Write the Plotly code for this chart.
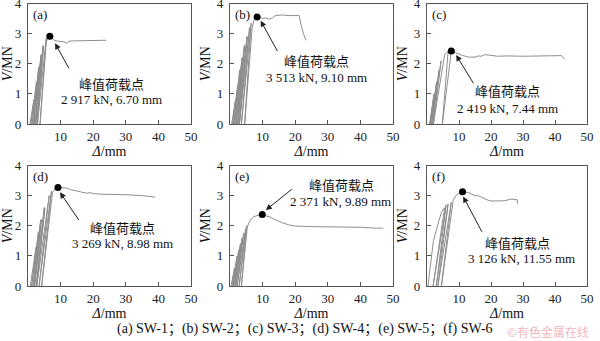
import plotly.graph_objects as go

# ---------------- data ----------------
PANELS = ["(a)", "(b)", "(c)", "(d)", "(e)", "(f)"]
CAPTION = "(a) SW-1\uff1b(b) SW-2\uff1b(c) SW-3\uff1b(d) SW-4\uff1b(e) SW-5\uff1b(f) SW-6"
PEAK_LABEL = "\u5cf0\u503c\u8377\u8f7d\u70b9"  # 峰值荷载点
WATERMARK = "\u00a9\u6709\u8272\u91d1\u5c5e\u5728\u7ebf"  # ©有色金属在线
PEAK_TEXT = ["2 917 kN, 6.70 mm", "3 513 kN, 9.10 mm", "2 419 kN, 7.44 mm",
             "3 269 kN, 8.98 mm", "2 371 kN, 9.89 mm", "3 126 kN, 11.55 mm"]
PEAK_D = [6.7, 8.3, 7.6, 9.2, 9.9, 11.1]
PEAK_V = [2.917, 3.55, 2.42, 3.27, 2.37, 3.13]

A_D = [0.6, 1.8, 0.9, 1.9, 1.0, 2.6, 1.3, 2.7, 1.4, 3.3, 1.7, 3.4, 1.8, 4.0, 2.2, 4.1, 2.3, 4.6, 2.7, 4.8,
       2.9, 5.6, 3.7, 5.6, 6.0, 6.7, 7.3, 8.0, 9.0, 10, 11, 12, 12.5, 14, 17, 20, 24]
A_V = [0, 0.8, 0, 0.8, 0, 1.4, 0, 1.4, 0, 1.9, 0, 1.9, 0, 2.3, 0, 2.3, 0, 2.6, 0, 2.6,
       0, 2.85, 0, 2.7, 2.85, 2.917, 2.85, 2.78, 2.75, 2.75, 2.73, 2.68, 2.75, 2.76, 2.77, 2.78, 2.78]

B_D = [0.5, 1.6, 0.7, 1.7, 0.8, 2.3, 1.0, 2.4, 1.1, 3.0, 1.4, 3.1, 1.5, 3.7, 1.8, 3.8, 1.9, 4.4, 2.3, 4.5,
       2.4, 5.2, 2.8, 5.3, 2.9, 6.0, 3.5, 6.5, 4.5, 6.8, 7.5, 8.3, 9, 10, 11, 12, 13, 14, 16, 18, 20,
       21.2, 21.8, 22.5, 23.3]
B_V = [0, 0.8, 0, 0.8, 0, 1.3, 0, 1.3, 0, 1.8, 0, 1.8, 0, 2.2, 0, 2.2, 0, 2.6, 0, 2.6,
       0, 2.9, 0, 2.9, 0, 3.2, 0, 3.35, 0, 3.2, 3.5, 3.55, 3.56, 3.5, 3.52, 3.48, 3.52, 3.6, 3.62, 3.6, 3.6,
       3.6, 3.3, 3.0, 2.78]

C_D = [0.8, 1.5, 0.8, 1.6, 0.9, 2.2, 1.0, 2.3, 1.1, 2.9, 1.3, 3.0, 1.4, 3.6, 1.6, 3.8, 1.7, 4.4, 2.0, 5.5,
       6.6, 4.8, 7.6, 8.5, 10, 11, 12, 13, 14, 15, 16, 17, 18, 19, 20, 22, 25, 30, 35, 40, 42, 43]
C_V = [0, 0.6, 0, 0.6, 0, 1.0, 0, 1.0, 0, 1.4, 0, 1.4, 0, 1.8, 0, 1.8, 0, 2.1, 0, 2.3,
       2.42, 0, 2.42, 2.38, 2.3, 2.28, 2.25, 2.22, 2.22, 2.22, 2.26, 2.25, 2.3, 2.3, 2.28, 2.25, 2.26,
       2.25, 2.25, 2.25, 2.27, 2.15]

D_D = [0.7, 1.8, 0.8, 1.9, 0.9, 2.5, 1.1, 2.6, 1.2, 3.2, 1.5, 3.3, 1.6, 3.9, 1.9, 4.1, 2.0, 5.0, 2.5, 5.2,
       2.7, 6.5, 3.4, 7.2, 4.2, 7.5, 8.3, 9.2, 10, 11, 12, 13, 15, 17, 18, 19, 20, 22, 25, 30, 35, 39]
D_V = [0, 0.8, 0, 0.8, 0, 1.3, 0, 1.3, 0, 1.8, 0, 1.8, 0, 2.2, 0, 2.2, 0, 2.6, 0, 2.6,
       0, 3.0, 0, 3.15, 0, 3.1, 3.22, 3.27, 3.27, 3.25, 3.25, 3.2, 3.15, 3.12, 3.08, 3.1, 3.07, 3.05,
       3.05, 3.03, 3.0, 2.95]

E_D = [0.3, 1.2, 0.5, 1.4, 0.6, 1.7, 0.7, 1.9, 0.8, 2.2, 0.9, 2.4, 1.0, 2.7, 1.2, 2.9, 1.3, 3.2, 1.5, 3.4,
       1.6, 3.7, 1.8, 3.9, 1.9, 4.2, 2.2, 4.5, 2.4, 4.8, 2.8, 5.1, 3.5, 5.3, 6, 7, 8, 9.9, 11, 12, 14, 16,
       18, 20, 25, 30, 35, 40, 45, 47]
E_V = [0, 0.6, 0, 0.6, 0, 0.8, 0, 0.8, 0, 1.0, 0, 1.0, 0, 1.2, 0, 1.2, 0, 1.4, 0, 1.4,
       0, 1.6, 0, 1.6, 0, 1.75, 0, 1.75, 0, 1.9, 0, 2.0, 0, 1.95, 2.15, 2.28, 2.33, 2.37, 2.33, 2.3, 2.2,
       2.1, 2.03, 1.99, 1.97, 1.97, 1.96, 1.95, 1.92, 1.92]

F_D = [0.3, 2.0, 4.5, 5.5, 1.9, 6.0, 2.9, 6.6, 3.4, 7.6, 4.5, 8.2, 9, 10, 11.1, 12, 13, 14, 15, 16, 17, 18,
       19, 20, 22, 24, 25, 26, 27, 28.2, 28.2, 28.5]
F_V = [0, 1.5, 2.45, 2.6, 0, 2.7, 0, 2.72, 0, 2.78, 0, 2.85, 3.0, 3.08, 3.13, 3.12, 3.1, 3.05, 3.0, 3.0,
       2.95, 2.88, 2.85, 2.82, 2.82, 2.83, 2.85, 2.88, 2.88, 2.86, 2.75, 2.72]

X_TICKS = [0, 10, 20, 30, 40, 50]
Y_TICKS = [0, 1, 2, 3, 4]
X_TITLE = "<i>\u0394</i>/mm"
Y_TITLE = "<i>V</i>/MN"

CURVES = [(A_D, A_V), (B_D, B_V), (C_D, C_V), (D_D, D_V), (E_D, E_V), (F_D, F_V)]

# ---------------- layout geometry ----------------
W, H = 600, 341
COLS = [(28, 191), (230, 393), (427, 587)]
ROWS = [(3.5, 124), (165.5, 286)]

# annotation placement (data coords): arrow head, arrow tail, text line1, text line2
ARROWS = [
    dict(head=(8.3, 2.68), tail=(12.8, 1.8), t1=(25.7, 1.36), t2=(25.7, 0.83)),
    dict(head=(9.4, 3.43), tail=(14.8, 2.37), t1=(26.5, 2.1), t2=(26.5, 1.55)),
    dict(head=(9.1, 2.29), tail=(14.8, 1.30), t1=(25.2, 1.11), t2=(25.2, 0.52)),
    dict(head=(9.8, 3.11), tail=(15.9, 2.14), t1=(29.0, 1.94), t2=(29.0, 1.42)),
    dict(head=(11.0, 2.52), tail=(19.4, 3.25), t1=(34.2, 3.36), t2=(34.0, 2.82)),
    dict(head=(11.3, 2.97), tail=(17.4, 1.75), t1=(28.3, 1.45), t2=(29.5, 0.90)),
]

SERIF = "Liberation Serif, Times New Roman, serif"
CJK = "Noto Sans CJK JP"
FRAME = "#555555"
CURVE = "#8e8e8e"

fig = go.Figure()
layout = dict(
    width=W, height=H, margin=dict(l=0, r=0, t=0, b=0, autoexpand=False),
    paper_bgcolor="white", plot_bgcolor="white", showlegend=False,
)
annotations = []

for i in range(6):
    r, c = divmod(i, 3)
    xn = "" if i == 0 else str(i + 1)
    xa, ya = "x" + xn, "y" + xn
    px0, px1 = COLS[c]
    py0, py1 = ROWS[r]
    d, v = CURVES[i]
    fig.add_trace(go.Scatter(x=d, y=v, mode="lines", line=dict(color=CURVE, width=1),
                             xaxis=xa, yaxis=ya, hoverinfo="skip"))
    fig.add_trace(go.Scatter(x=[PEAK_D[i]], y=[PEAK_V[i]], mode="markers",
                             marker=dict(color="black", size=7), xaxis=xa, yaxis=ya))
    axcommon = dict(showgrid=False, zeroline=False, showline=True, mirror=True,
                    linecolor=FRAME, linewidth=1.3, ticks="inside", ticklen=4,
                    tickcolor=FRAME, tickwidth=1, automargin=False,
                    ticklabeloverflow="allow",
                    tickfont=dict(family=SERIF, size=13, color="#222"))
    layout["xaxis" + xn] = dict(axcommon, domain=[px0 / W, px1 / W], range=[0, 50],
                                anchor=ya, tickvals=X_TICKS,
                                ticktext=["" if t == 0 else str(t) for t in X_TICKS],
                                title=dict(text=X_TITLE, standoff=1,
                                           font=dict(family=SERIF, size=14, color="#111")))
    layout["yaxis" + xn] = dict(axcommon, domain=[1 - py1 / H, 1 - py0 / H], range=[0, 4],
                                anchor=xa, tickvals=Y_TICKS, ticklabelstandoff=3,
                                title=dict(text=Y_TITLE, standoff=2,
                                           font=dict(family=SERIF, size=14, color="#111")))
    # panel letter
    annotations.append(dict(x=1.0, y=3.62, xref=xa, yref=ya, text=PANELS[i], showarrow=False,
                            xanchor="left", yanchor="middle",
                            font=dict(family=SERIF, size=13, color="#111")))
    # arrow
    a = ARROWS[i]
    annotations.append(dict(x=a["head"][0], y=a["head"][1], ax=a["tail"][0], ay=a["tail"][1],
                            xref=xa, yref=ya, axref=xa, ayref=ya, text="", showarrow=True,
                            arrowhead=2, arrowsize=1.2, arrowwidth=1, arrowcolor="#222"))
    annotations.append(dict(x=a["t1"][0], y=a["t1"][1], xref=xa, yref=ya, text=PEAK_LABEL,
                            showarrow=False, xanchor="center", yanchor="middle",
                            font=dict(family=CJK, size=13, color="#111")))
    annotations.append(dict(x=a["t2"][0], y=a["t2"][1], xref=xa, yref=ya, text=PEAK_TEXT[i],
                            showarrow=False, xanchor="center", yanchor="middle",
                            font=dict(family=SERIF, size=13, color="#111")))

annotations.append(dict(x=305 / W, y=1 - 329 / H, xref="paper", yref="paper", text=CAPTION,
                        showarrow=False, xanchor="center", yanchor="middle",
                        font=dict(family="Liberation Serif, Noto Sans CJK SC", size=14, color="#111")))
annotations.append(dict(x=548 / W, y=1 - 331 / H, xref="paper", yref="paper", text=WATERMARK,
                        showarrow=False, xanchor="center", yanchor="middle",
                        font=dict(family="Noto Sans CJK SC", size=12, color="#f2b8c0")))

layout["annotations"] = annotations
fig.update_layout(**layout)
fig.write_html("out.html")
